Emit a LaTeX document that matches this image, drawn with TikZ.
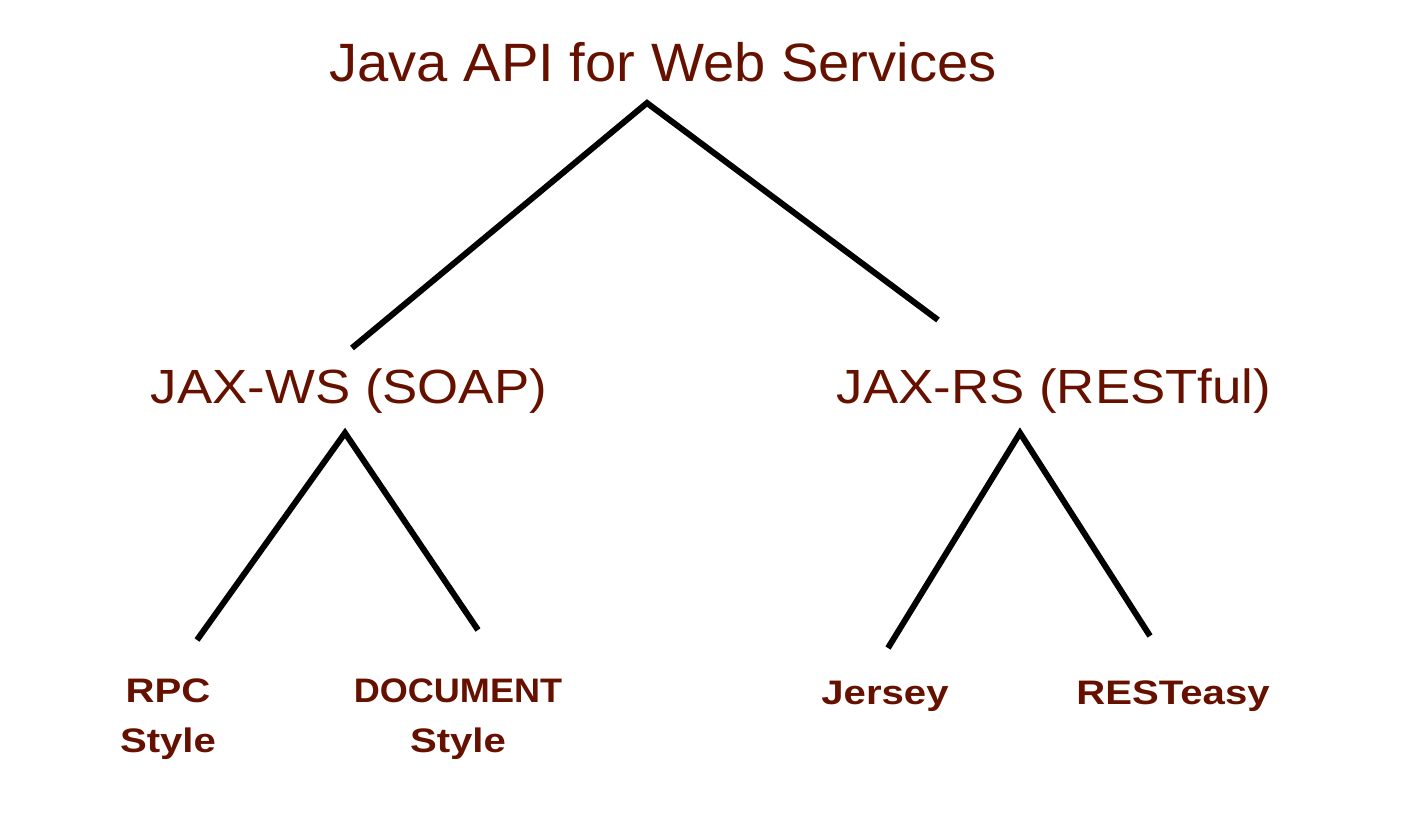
\documentclass[tikz,border=0pt]{standalone}
\usepackage{fontspec}
\setmainfont{Liberation Sans}
\newfontfamily\topfont[FakeStretch=1.04]{Liberation Sans}
\newfontfamily\midfont[FakeStretch=1.10]{Liberation Sans}
\newfontfamily\leaffont[FakeStretch=1.18]{Liberation Sans}
\newfontfamily\docfont[FakeStretch=1.06]{Liberation Sans}
\definecolor{txtbrown}{RGB}{102,17,0}
\begin{document}
\begin{tikzpicture}[x=1pt,y=1pt,
  lbl/.style={text=txtbrown,inner sep=0pt,anchor=base},
  toplbl/.style={lbl,font=\topfont\fontsize{54}{60}\selectfont},
  midlbl/.style={lbl,font=\midfont\fontsize{48}{54}\selectfont},
  leaflbl/.style={lbl,font=\leaffont\fontsize{34}{50}\selectfont\bfseries,align=center},
  branch/.style={line width=6pt,black,line join=miter,line cap=butt}]
\useasboundingbox (0,0) rectangle (1414,832);
\node[toplbl] (root) at (663,750) {Java API for Web Services};
\node[midlbl] (ws) at (349,428) {JAX-WS (SOAP)};
\node[midlbl] (rs) at (1054,428) {JAX-RS (RESTful)};
\node[leaflbl] (rpc) at (168,79) {RPC\\Style};
\node[leaflbl] (doc) at (458,79) {{\docfont\fontsize{34}{50}\selectfont\bfseries DOCUMENT}\\Style};
\node[leaflbl] (jersey) at (885,127) {Jersey};
\node[leaflbl] (resteasy) at (1173,127) {RESTeasy};
\coordinate (rootA) at (647,729);
\coordinate (rootL) at (352,484);
\coordinate (rootR) at (938,512);
\coordinate (wsA) at (345,399);
\coordinate (wsL) at (197,192);
\coordinate (wsR) at (478,202);
\coordinate (rsA) at (1020,399);
\coordinate (rsL) at (888,184);
\coordinate (rsR) at (1150,196);
\draw[branch] (rootL) -- (rootA) -- (rootR);
\draw[branch] (wsL) -- (wsA) -- (wsR);
\draw[branch] (rsL) -- (rsA) -- (rsR);
\end{tikzpicture}
\end{document}
